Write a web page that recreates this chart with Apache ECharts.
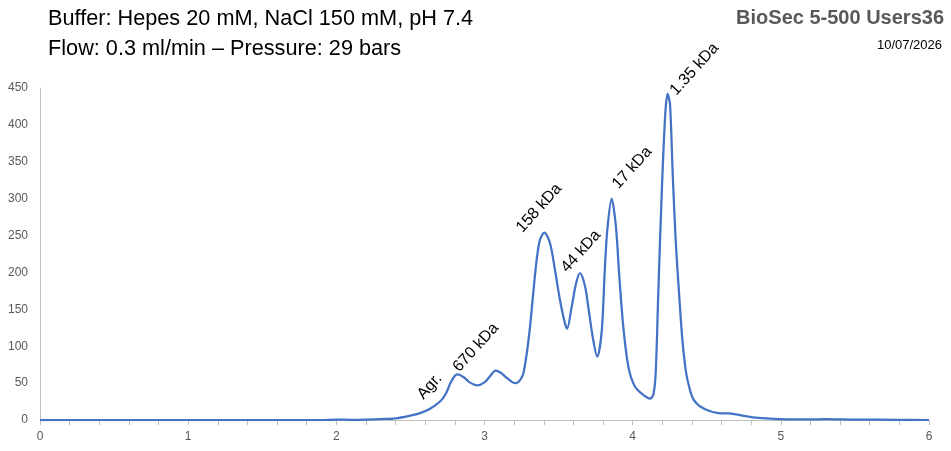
<!DOCTYPE html>
<html>
<head>
<meta charset="utf-8">
<script src="https://cdn.jsdelivr.net/npm/echarts@6/dist/echarts.min.js"></script>
<style>
  html, body { margin: 0; padding: 0; background: #fff; }
  #chart { width: 951px; height: 451px; }
</style>
</head>
<body>
<div id="chart"></div>
<script>
// elution volume (ml) and absorbance
const volume = [0, 1.0, 1.9, 2.0, 2.1, 2.2, 2.3, 2.4, 2.5, 2.56, 2.63, 2.7, 2.74, 2.77, 2.8, 2.82, 2.86, 2.9, 2.95, 3.0, 3.04, 3.075, 3.11, 3.15, 3.19, 3.215, 3.24, 3.262, 3.285, 3.307, 3.329, 3.352, 3.374, 3.404, 3.442, 3.476, 3.509, 3.543, 3.558, 3.588, 3.618, 3.645, 3.679, 3.7, 3.734, 3.761, 3.791, 3.813, 3.829, 3.858, 3.887, 3.91, 3.937, 3.971, 4.016, 4.072, 4.117, 4.14, 4.155, 4.173, 4.196, 4.22, 4.236, 4.252, 4.27, 4.29, 4.311, 4.335, 4.36, 4.385, 4.41, 4.45, 4.49, 4.53, 4.57, 4.61, 4.65, 4.7, 4.75, 4.81, 4.9, 5.0, 5.2, 5.3, 5.5, 5.8, 6.0]
const absorbance = [0, 0, 0, 0.5, 0.3, 0.6, 1.2, 2.3, 6, 9, 15, 25, 36, 50, 60, 62, 58, 51, 47, 51, 60, 67, 64, 57, 51, 50, 54, 63, 90, 126, 172, 217, 244, 254, 240, 203, 163, 131, 124, 153, 185, 199, 181, 154, 108, 86, 120, 208, 258, 300, 262, 194, 126, 72, 45, 34, 29, 35, 62, 172, 307, 415, 442, 428, 335, 245, 178, 110, 65, 42, 28, 19, 14.5, 11.5, 9.8, 9, 9, 7.5, 5.5, 3.7, 2.2, 1.2, 0.8, 1.2, 0.6, 0.3, 0]

// peak annotations: text, position in data units
const peakNames = ['Agr.', '670 kDa', '158 kDa', '44 kDa', '17 kDa', '1.35 kDa']
const peakX = [2.606, 2.848, 3.274, 3.577, 3.922, 4.313]
const peakY = [24, 61, 250, 196, 309, 436]

const yTicks = [0, 50, 100, 150, 200, 250, 300, 350, 400, 450]

const chart = echarts.init(document.getElementById('chart'))

const option = {
  animation: false,
  textStyle: { fontFamily: 'Liberation Sans, Arial, sans-serif' },
  graphic: [
    { type: 'text', left: 48, top: 8, style: { text: 'Buffer: Hepes 20 mM, NaCl 150 mM, pH 7.4', font: '21.7px Liberation Sans', fill: '#000' } },
    { type: 'text', left: 48, top: 38, style: { text: 'Flow: 0.3 ml/min \u2013 Pressure: 29 bars', font: '21.7px Liberation Sans', fill: '#000' } },
    { type: 'text', right: 7, top: 8, style: { text: 'BioSec 5-500 Users36', font: 'bold 20px Liberation Sans', fill: '#595959' } },
    { type: 'text', right: 9, top: 39, style: { text: '10/07/2026', font: '13px Liberation Sans', fill: '#000' } }
  ],
  grid: { left: 40, right: 22, top: 88, bottom: 31 },
  xAxis: {
    type: 'value',
    min: 0,
    max: 6,
    interval: 1,
    axisLine: { show: true, lineStyle: { color: '#bfbfbf', width: 1 } },
    axisTick: { show: true, length: 5, lineStyle: { color: '#bfbfbf' } },
    minorTick: { show: true, splitNumber: 5, length: 5, lineStyle: { color: '#bfbfbf' } },
    splitLine: { show: false },
    axisLabel: { color: '#595959', fontSize: 12, margin: 11 }
  },
  yAxis: {
    type: 'value',
    min: yTicks[0],
    max: yTicks[yTicks.length - 1],
    interval: 50,
    axisLine: { show: true, lineStyle: { color: '#bfbfbf', width: 1 } },
    axisTick: { show: false },
    splitLine: { show: false },
    axisLabel: { color: '#595959', fontSize: 12, margin: 12 }
  },
  series: [
    {
      type: 'line',
      data: volume.map((v, i) => [v, absorbance[i]]),
      showSymbol: false,
      smooth: 0.3,
      lineStyle: { color: '#4472c4', width: 2.25 },
      markPoint: {
        symbol: 'circle',
        symbolSize: 0,
        silent: true,
        data: peakNames.map((n, i) => ({
          name: n,
          coord: [peakX[i], peakY[i]],
          label: {
            show: true,
            formatter: n,
            position: 'inside',
            rotate: 48,
            align: 'left',
            verticalAlign: 'bottom',
            color: '#000',
            fontSize: 16,
            fontFamily: 'Liberation Sans'
          }
        }))
      }
    }
  ]
}

chart.setOption(option)
</script>
</body>
</html>
